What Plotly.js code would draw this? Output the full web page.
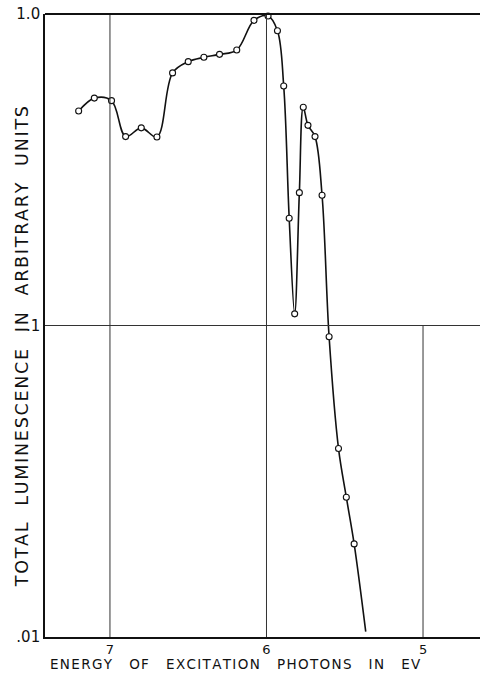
<!DOCTYPE html>
<html>
<head>
<meta charset="utf-8">
<script src="https://cdn.plot.ly/plotly-3.0.1.min.js"></script>
<style>html,body{margin:0;padding:0;background:#fff;}#chart{width:481px;height:673px;}</style>
</head>
<body>
<div id="chart"></div>
<script>
// Measured points: photon energy (eV) and total luminescence (arbitrary units)
const energy = [7.20, 7.10, 6.99, 6.90, 6.80, 6.70, 6.60, 6.50, 6.40, 6.30, 6.19, 6.08, 5.99, 5.93, 5.89, 5.855, 5.82, 5.79, 5.765, 5.735, 5.69, 5.645, 5.60, 5.54, 5.49, 5.44];
const lum    = [0.488, 0.537, 0.527, 0.404, 0.431, 0.403, 0.647, 0.703, 0.726, 0.742, 0.766, 0.954, 0.985, 0.884, 0.587, 0.221, 0.109, 0.267, 0.502, 0.439, 0.404, 0.262, 0.092, 0.0403, 0.0281, 0.0199];
// End of the drawn curve (no marker)
const curveEndX = [5.366];
const curveEndY = [0.0104];

const yTickVals = [0.01, 0.1, 1];
const yTickText = ['.01', '.1', '1.0'];
const xTickVals = [7, 6, 5];
const xTickText = ['7', '6', '5'];

const xTitle = 'ENERGY OF EXCITATION PHOTONS IN EV';
const yTitle = 'TOTAL LUMINESCENCE IN ARBITRARY UNITS';

// spaced lettering: hair space between letters, wide gap between words
const spaced = (s, gap) => s.split(' ').map(w => w.split('').join('\u200a')).join(gap);

const curveX = energy.concat(curveEndX);
const curveY = lum.concat(curveEndY);

const traces = [
  {x: curveX, y: curveY, type: 'scatter', mode: 'lines',
   line: {color: '#111', width: 1.6, shape: 'spline', smoothing: 1}, hoverinfo: 'skip', cliponaxis: false},
  {x: energy, y: lum, type: 'scatter', mode: 'markers',
   marker: {symbol: 'circle', size: 6, color: '#fff', line: {color: '#111', width: 1.1}}, cliponaxis: false}
];

const gridColor = '#333';
const layout = {
  width: 481, height: 673,
  margin: {l: 45, r: 1, t: 14, b: 36},
  paper_bgcolor: '#fff', plot_bgcolor: '#fff',
  showlegend: false,
  font: {family: 'DejaVu Sans, sans-serif', color: '#111'},
  xaxis: {range: [7.415, 4.636], showgrid: false, zeroline: false,
          tickvals: xTickVals, ticktext: xTickText, ticks: '', ticklabelstandoff: 0,
          tickfont: {size: 13}, showline: true, linecolor: '#111', linewidth: 1.8},
  yaxis: {type: 'log', range: [-2, 0], showgrid: false, zeroline: false,
          tickvals: yTickVals, ticktext: yTickText, ticks: '',
          tickfont: {size: 15}, showline: true, linecolor: '#111', linewidth: 1.8},
  shapes: [
    {type: 'line', xref: 'x', yref: 'paper', x0: 7, x1: 7, y0: 0, y1: 1, line: {color: gridColor, width: 1}},
    {type: 'line', xref: 'x', yref: 'paper', x0: 6, x1: 6, y0: 0, y1: 1, line: {color: gridColor, width: 1}},
    {type: 'line', xref: 'x', yref: 'y', x0: 5, x1: 5, y0: 0.01, y1: 0.1, line: {color: gridColor, width: 1}},
    {type: 'line', xref: 'paper', yref: 'y', x0: 0, x1: 1, y0: 0.1, y1: 0.1, line: {color: gridColor, width: 1}},
    {type: 'line', xref: 'paper', yref: 'paper', x0: 0, x1: 1, y0: 1, y1: 1, line: {color: '#111', width: 1.8}}
  ],
  annotations: [
    {text: spaced(xTitle, '\u00a0\u00a0\u00a0\u00a0'), xref: 'paper', yref: 'paper', x: 0.4376, y: 0, yshift: -18, xanchor: 'center', yanchor: 'top',
     showarrow: false, borderpad: 0, font: {size: 13.5, color: '#111'}},
    {text: spaced(yTitle, '\u00a0\u00a0\u00a0'), xref: 'paper', yref: 'paper', x: 0, xshift: -23, y: 0.465, xanchor: 'center', yanchor: 'middle',
     textangle: -90, showarrow: false, borderpad: 0, font: {size: 17.5, color: '#111'}}
  ]
};

Plotly.newPlot('chart', traces, layout, {displayModeBar: false, staticPlot: true});
</script>
</body>
</html>
